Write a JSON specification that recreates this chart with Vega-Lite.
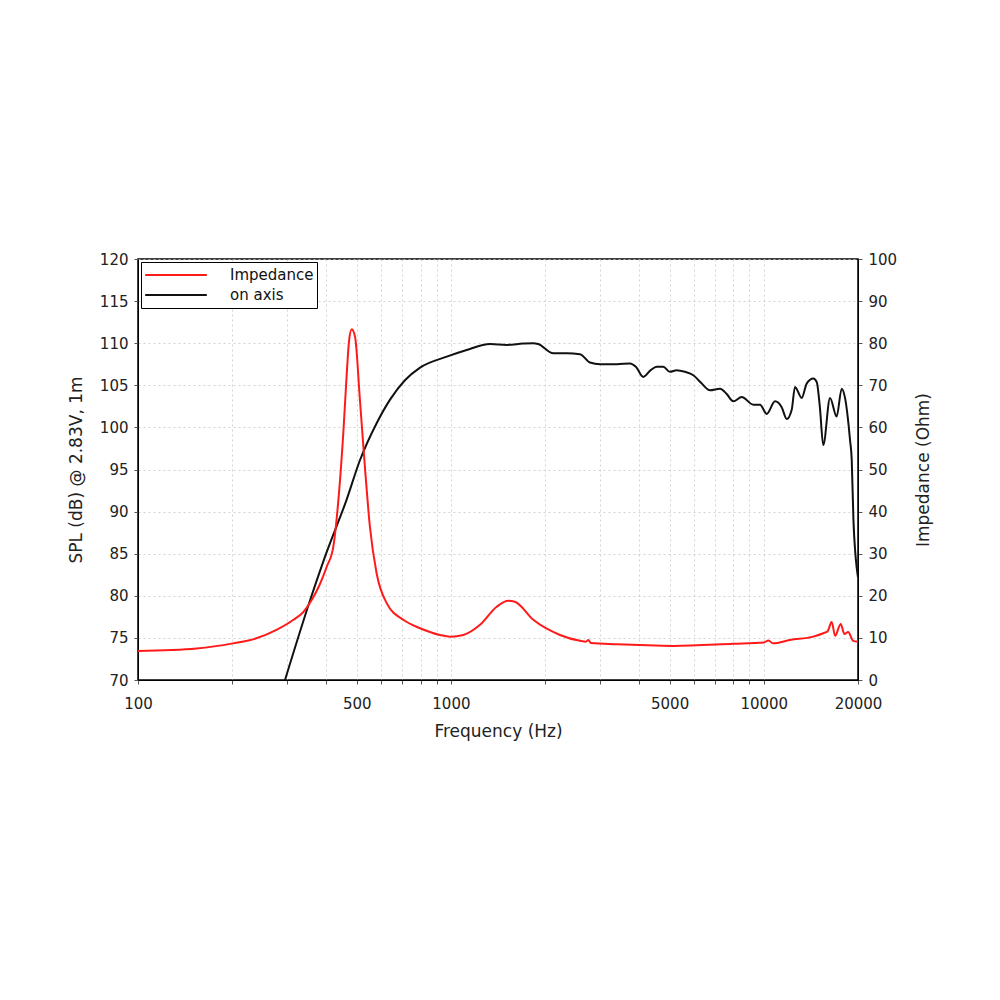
{
  "$schema": "https://vega.github.io/schema/vega-lite/v6.json",
  "width": 720,
  "height": 421,
  "autosize": {"type": "none"},
  "padding": {"left": 138, "top": 259, "right": 142, "bottom": 320},
  "background": "white",
  "config": {
    "font": "DejaVu Sans",
    "view": {"stroke": "black", "strokeWidth": 1.5},
    "axis": {
      "labelFont": "DejaVu Sans",
      "titleFont": "DejaVu Sans",
      "labelFontSize": 15,
      "titleFontSize": 17,
      "titleFontWeight": "normal",
      "labelColor": "#222",
      "titleColor": "#222",
      "gridColor": "#c8c8c8",
      "gridDash": [2, 3],
      "gridWidth": 0.8,
      "domainColor": "black",
      "tickColor": "#555",
      "tickSize": 4
    }
  },
  "datasets": {
    "spl": [
      {"series": "on axis", "f": 295, "v": 70},
      {"series": "on axis", "f": 355, "v": 79.5},
      {"series": "on axis", "f": 400, "v": 85.1},
      {"series": "on axis", "f": 464, "v": 91.4},
      {"series": "on axis", "f": 512, "v": 96.1},
      {"series": "on axis", "f": 579, "v": 100.5},
      {"series": "on axis", "f": 639, "v": 103.3},
      {"series": "on axis", "f": 713, "v": 105.6},
      {"series": "on axis", "f": 797, "v": 107.1},
      {"series": "on axis", "f": 970, "v": 108.4},
      {"series": "on axis", "f": 1123, "v": 109.2},
      {"series": "on axis", "f": 1334, "v": 109.9},
      {"series": "on axis", "f": 1508, "v": 109.8},
      {"series": "on axis", "f": 1700, "v": 109.95},
      {"series": "on axis", "f": 1834, "v": 110.0},
      {"series": "on axis", "f": 1900, "v": 109.9},
      {"series": "on axis", "f": 2124, "v": 108.8},
      {"series": "on axis", "f": 2350, "v": 108.8},
      {"series": "on axis", "f": 2586, "v": 108.7},
      {"series": "on axis", "f": 2783, "v": 107.7},
      {"series": "on axis", "f": 2997, "v": 107.5},
      {"series": "on axis", "f": 3400, "v": 107.5},
      {"series": "on axis", "f": 3735, "v": 107.6},
      {"series": "on axis", "f": 3900, "v": 107.2},
      {"series": "on axis", "f": 4120, "v": 106.0},
      {"series": "on axis", "f": 4350, "v": 106.8},
      {"series": "on axis", "f": 4548, "v": 107.2},
      {"series": "on axis", "f": 4772, "v": 107.2},
      {"series": "on axis", "f": 5013, "v": 106.6},
      {"series": "on axis", "f": 5268, "v": 106.8},
      {"series": "on axis", "f": 5600, "v": 106.6},
      {"series": "on axis", "f": 5953, "v": 106.2},
      {"series": "on axis", "f": 6300, "v": 105.3},
      {"series": "on axis", "f": 6731, "v": 104.4},
      {"series": "on axis", "f": 7245, "v": 104.6},
      {"series": "on axis", "f": 7600, "v": 104.0},
      {"series": "on axis", "f": 7990, "v": 103.1},
      {"series": "on axis", "f": 8500, "v": 103.6},
      {"series": "on axis", "f": 9260, "v": 102.7},
      {"series": "on axis", "f": 9726, "v": 102.7},
      {"series": "on axis", "f": 10215, "v": 101.6},
      {"series": "on axis", "f": 10860, "v": 103.1},
      {"series": "on axis", "f": 11405, "v": 102.4},
      {"series": "on axis", "f": 11838, "v": 101.0},
      {"series": "on axis", "f": 12280, "v": 102.1},
      {"series": "on axis", "f": 12580, "v": 104.8},
      {"series": "on axis", "f": 13215, "v": 103.5},
      {"series": "on axis", "f": 13710, "v": 105.2},
      {"series": "on axis", "f": 14390, "v": 105.8},
      {"series": "on axis", "f": 14760, "v": 105.4},
      {"series": "on axis", "f": 15100, "v": 102.5},
      {"series": "on axis", "f": 15490, "v": 97.9},
      {"series": "on axis", "f": 16280, "v": 103.5},
      {"series": "on axis", "f": 17090, "v": 101.3},
      {"series": "on axis", "f": 17740, "v": 104.6},
      {"series": "on axis", "f": 18180, "v": 103.5},
      {"series": "on axis", "f": 18860, "v": 98.5},
      {"series": "on axis", "f": 19100, "v": 96.1},
      {"series": "on axis", "f": 19340, "v": 89},
      {"series": "on axis", "f": 20000, "v": 82.2}
    ],
    "imp": [
      {"series": "Impedance", "f": 100, "v": 6.9},
      {"series": "Impedance", "f": 154, "v": 7.5},
      {"series": "Impedance", "f": 201, "v": 8.7},
      {"series": "Impedance", "f": 239, "v": 9.9},
      {"series": "Impedance", "f": 277, "v": 11.9},
      {"series": "Impedance", "f": 314, "v": 14.3},
      {"series": "Impedance", "f": 338, "v": 16.2},
      {"series": "Impedance", "f": 359, "v": 19},
      {"series": "Impedance", "f": 380, "v": 22.5},
      {"series": "Impedance", "f": 401, "v": 26.9},
      {"series": "Impedance", "f": 421, "v": 31.7},
      {"series": "Impedance", "f": 437, "v": 42.8},
      {"series": "Impedance", "f": 453, "v": 58.6},
      {"series": "Impedance", "f": 464, "v": 72},
      {"series": "Impedance", "f": 473, "v": 80.8},
      {"series": "Impedance", "f": 482, "v": 83.3},
      {"series": "Impedance", "f": 494, "v": 81.5},
      {"series": "Impedance", "f": 512, "v": 66.5},
      {"series": "Impedance", "f": 531, "v": 50.7},
      {"series": "Impedance", "f": 551, "v": 36.4},
      {"series": "Impedance", "f": 579, "v": 25.3},
      {"series": "Impedance", "f": 624, "v": 18.2},
      {"series": "Impedance", "f": 705, "v": 14.3},
      {"series": "Impedance", "f": 797, "v": 12.3},
      {"series": "Impedance", "f": 923, "v": 10.7},
      {"series": "Impedance", "f": 997, "v": 10.3},
      {"series": "Impedance", "f": 1096, "v": 10.7},
      {"series": "Impedance", "f": 1239, "v": 13.1},
      {"series": "Impedance", "f": 1401, "v": 17.4},
      {"series": "Impedance", "f": 1526, "v": 18.8},
      {"series": "Impedance", "f": 1600, "v": 18.6},
      {"series": "Impedance", "f": 1834, "v": 14.3},
      {"series": "Impedance", "f": 2232, "v": 10.7},
      {"series": "Impedance", "f": 2586, "v": 9.3},
      {"series": "Impedance", "f": 2700, "v": 9.1},
      {"series": "Impedance", "f": 2749, "v": 9.5},
      {"series": "Impedance", "f": 2800, "v": 8.8},
      {"series": "Impedance", "f": 3388, "v": 8.5},
      {"series": "Impedance", "f": 4020, "v": 8.3},
      {"series": "Impedance", "f": 5140, "v": 8.1},
      {"series": "Impedance", "f": 7990, "v": 8.6},
      {"series": "Impedance", "f": 10000, "v": 8.9},
      {"series": "Impedance", "f": 10340, "v": 9.4},
      {"series": "Impedance", "f": 10700, "v": 8.7},
      {"series": "Impedance", "f": 12120, "v": 9.5},
      {"series": "Impedance", "f": 14390, "v": 10.3},
      {"series": "Impedance", "f": 15490, "v": 11.1},
      {"series": "Impedance", "f": 16000, "v": 11.6},
      {"series": "Impedance", "f": 16480, "v": 13.8},
      {"series": "Impedance", "f": 16900, "v": 10.5},
      {"series": "Impedance", "f": 17610, "v": 13.3},
      {"series": "Impedance", "f": 18100, "v": 10.9},
      {"series": "Impedance", "f": 18600, "v": 11.4},
      {"series": "Impedance", "f": 19300, "v": 9.3},
      {"series": "Impedance", "f": 20000, "v": 9.1}
    ]
  },
  "encoding": {
    "x": {
      "field": "f",
      "type": "quantitative",
      "scale": {"type": "log", "domain": [100, 20000], "nice": false},
      "axis": {
        "title": "Frequency (Hz)",
        "values": [100, 200, 300, 400, 500, 600, 700, 800, 900, 1000, 2000, 3000, 4000, 5000, 6000, 7000, 8000, 9000, 10000, 20000],
        "labelExpr": "indexof([100, 500, 1000, 5000, 10000, 20000], datum.value) >= 0 ? datum.value : ''",
        "labelOverlap": false,
        "labelFlush": false,
        "labelPadding": 12,
        "titlePadding": 12
      }
    },
    "color": {
      "field": "series",
      "type": "nominal",
      "scale": {"domain": ["Impedance", "on axis"], "range": ["#ff1a1a", "#111111"]},
      "legend": {
        "title": null,
        "orient": "top-left",
        "offset": 3,
        "symbolType": "stroke",
        "symbolSize": 3800,
        "symbolStrokeWidth": 2,
        "clipHeight": 20,
        "labelFontSize": 15,
        "labelFont": "DejaVu Sans",
        "labelColor": "#111",
        "strokeColor": "black",
        "fillColor": "white",
        "padding": 3,
        "rowPadding": 0,
        "labelOffset": 22,
        "labelLimit": 300,
        "cornerRadius": 0
      }
    }
  },
  "layer": [
    {
      "data": {"name": "spl"},
      "mark": {"type": "line", "strokeWidth": 2, "interpolate": "monotone", "clip": true},
      "encoding": {
        "y": {
          "field": "v",
          "type": "quantitative",
          "scale": {"domain": [70, 120], "nice": false},
          "axis": {
            "title": "SPL (dB) @ 2.83V, 1m",
            "values": [70, 75, 80, 85, 90, 95, 100, 105, 110, 115, 120],
            "orient": "left",
            "labelPadding": 6,
            "titlePadding": 14
          }
        }
      }
    },
    {
      "data": {"name": "imp"},
      "mark": {"type": "line", "strokeWidth": 2, "interpolate": "monotone", "clip": true},
      "encoding": {
        "y": {
          "field": "v",
          "type": "quantitative",
          "scale": {"domain": [0, 100], "nice": false},
          "axis": {
            "title": "Impedance (Ohm)",
            "values": [0, 10, 20, 30, 40, 50, 60, 70, 80, 90, 100],
            "orient": "right",
            "grid": false,
            "titleAngle": 270,
            "labelPadding": 6,
            "titlePadding": 36
          }
        }
      }
    }
  ],
  "resolve": {"scale": {"y": "independent"}}
}
